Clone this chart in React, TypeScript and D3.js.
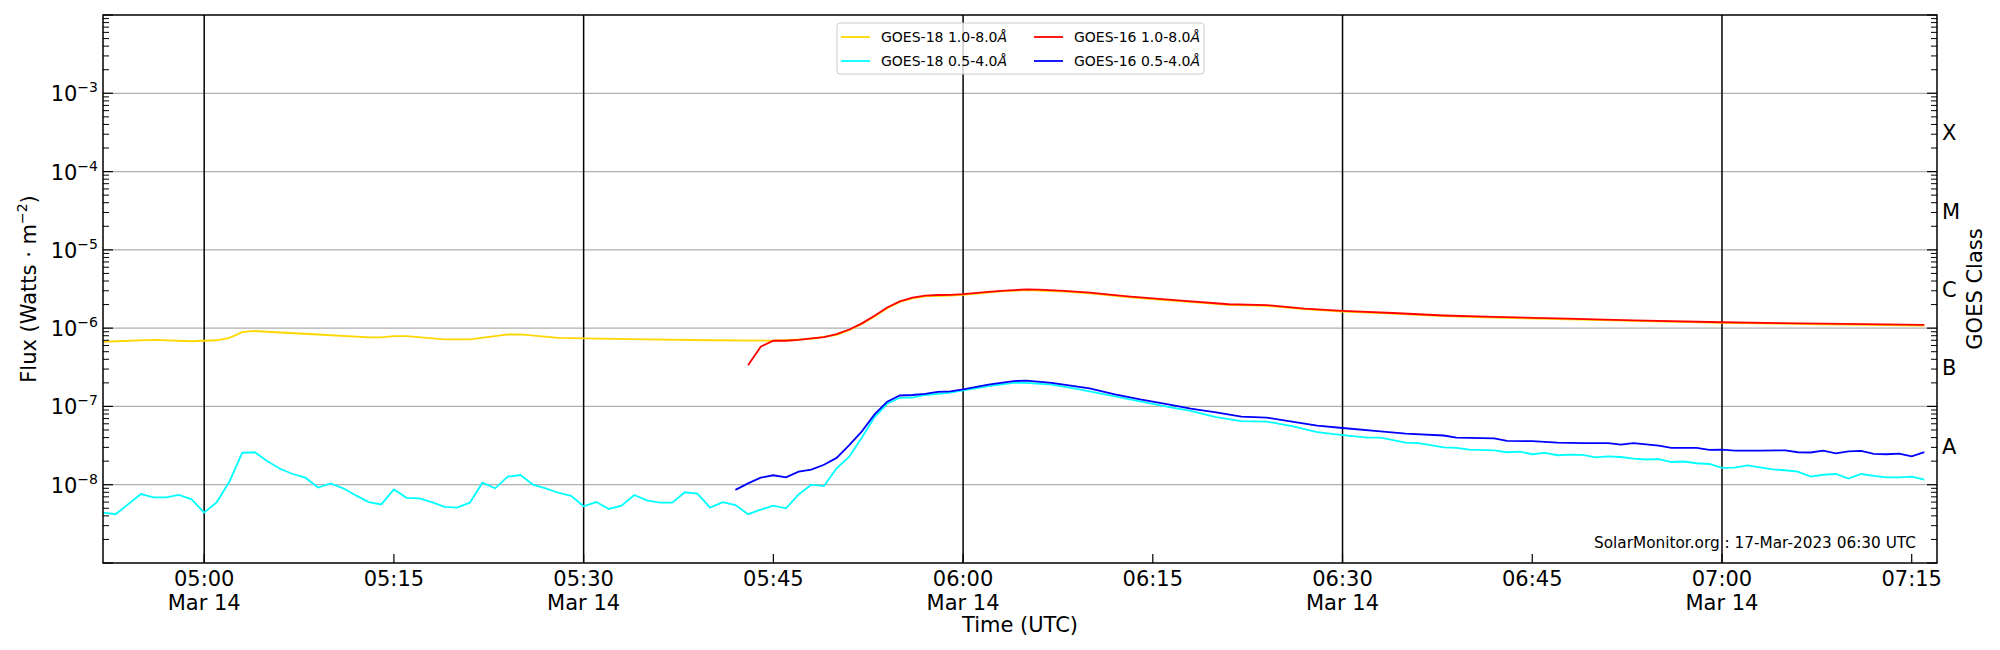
import * as d3 from "d3";

// GOES X-ray flux, 14 Mar 2023 (UTC). [time, W/m^2]
const goes18Long: [string, number][] = [
  ["04:52", 6.7e-7], ["04:56", 7.1e-7], ["04:59", 6.8e-7], ["05:00", 6.9e-7], ["05:01", 7.0e-7],
  ["05:02", 7.5e-7], ["05:03", 8.9e-7], ["05:04", 9.2e-7], ["05:06", 8.8e-7], ["05:09", 8.3e-7],
  ["05:13", 7.6e-7], ["05:14", 7.6e-7], ["05:15", 7.9e-7], ["05:16", 7.9e-7], ["05:19", 7.2e-7],
  ["05:21", 7.2e-7], ["05:23", 7.9e-7], ["05:24", 8.3e-7], ["05:25", 8.3e-7], ["05:28", 7.5e-7],
  ["05:30", 7.4e-7], ["05:35", 7.2e-7], ["05:40", 7.0e-7], ["05:45", 6.9e-7], ["05:48", 7.3e-7],
  ["05:50", 8.2e-7], ["05:51", 9.4e-7], ["05:52", 1.13e-6], ["05:53", 1.41e-6], ["05:54", 1.8e-6],
  ["05:55", 2.16e-6], ["05:56", 2.4e-6], ["05:57", 2.55e-6], ["05:59", 2.6e-6], ["06:00", 2.67e-6],
  ["06:03", 2.95e-6], ["06:05", 3.06e-6], ["06:08", 2.94e-6], ["06:10", 2.79e-6], ["06:13", 2.5e-6],
  ["06:17", 2.21e-6], ["06:21", 1.98e-6], ["06:24", 1.93e-6], ["06:27", 1.75e-6], ["06:30", 1.63e-6],
  ["06:34", 1.53e-6], ["06:38", 1.42e-6], ["06:42", 1.36e-6], ["06:47", 1.3e-6], ["06:53", 1.24e-6],
  ["07:00", 1.17e-6], ["07:08", 1.12e-6], ["07:16", 1.08e-6],
];

const goes18Short: [string, number][] = [
  ["04:52", 4.4e-9], ["04:53", 4.2e-9], ["04:55", 7.6e-9], ["04:56", 6.9e-9], ["04:57", 6.9e-9],
  ["04:58", 7.4e-9], ["04:59", 6.5e-9], ["05:00", 4.4e-9], ["05:01", 6.0e-9], ["05:02", 1.1e-8],
  ["05:03", 2.55e-8], ["05:04", 2.6e-8], ["05:05", 2.0e-8], ["05:06", 1.6e-8], ["05:07", 1.37e-8],
  ["05:08", 1.23e-8], ["05:09", 9.2e-9], ["05:10", 1.04e-8], ["05:11", 9.0e-9], ["05:12", 7.3e-9],
  ["05:13", 6.0e-9], ["05:14", 5.6e-9], ["05:15", 8.7e-9], ["05:16", 6.8e-9], ["05:17", 6.7e-9],
  ["05:18", 6.0e-9], ["05:19", 5.2e-9], ["05:20", 5.1e-9], ["05:21", 5.9e-9], ["05:22", 1.06e-8],
  ["05:23", 9.0e-9], ["05:24", 1.27e-8], ["05:25", 1.33e-8], ["05:26", 1.0e-8], ["05:27", 9.0e-9],
  ["05:28", 7.9e-9], ["05:29", 7.2e-9], ["05:30", 5.3e-9], ["05:31", 6.0e-9], ["05:32", 4.9e-9],
  ["05:33", 5.4e-9], ["05:34", 7.4e-9], ["05:35", 6.3e-9], ["05:36", 5.9e-9], ["05:37", 5.9e-9],
  ["05:38", 8.0e-9], ["05:39", 7.7e-9], ["05:40", 5.1e-9], ["05:41", 6.0e-9], ["05:42", 5.5e-9],
  ["05:43", 4.2e-9], ["05:44", 4.8e-9], ["05:45", 5.4e-9], ["05:46", 5.0e-9], ["05:47", 7.5e-9],
  ["05:48", 1.0e-8], ["05:49", 9.6e-9], ["05:50", 1.62e-8], ["05:51", 2.28e-8], ["05:52", 4.0e-8],
  ["05:53", 7.3e-8], ["05:54", 1.08e-7], ["05:55", 1.29e-7], ["05:56", 1.3e-7], ["05:57", 1.4e-7],
  ["05:58", 1.45e-7], ["05:59", 1.5e-7], ["06:00", 1.6e-7], ["06:02", 1.82e-7], ["06:04", 2.0e-7],
  ["06:05", 2.0e-7], ["06:07", 1.9e-7], ["06:09", 1.68e-7], ["06:12", 1.34e-7], ["06:16", 1.0e-7],
  ["06:18", 8.8e-8], ["06:20", 7.3e-8], ["06:22", 6.5e-8], ["06:24", 6.4e-8], ["06:26", 5.6e-8],
  ["06:28", 4.7e-8], ["06:30", 4.3e-8], ["06:32", 4.0e-8], ["06:33", 4.0e-8], ["06:35", 3.45e-8],
  ["06:36", 3.4e-8], ["06:38", 3.0e-8], ["06:39", 2.96e-8], ["06:40", 2.8e-8], ["06:42", 2.75e-8],
  ["06:43", 2.6e-8], ["06:44", 2.65e-8], ["06:45", 2.45e-8], ["06:46", 2.55e-8], ["06:47", 2.38e-8],
  ["06:48", 2.42e-8], ["06:49", 2.4e-8], ["06:50", 2.24e-8], ["06:51", 2.3e-8], ["06:52", 2.26e-8],
  ["06:53", 2.15e-8], ["06:54", 2.1e-8], ["06:55", 2.12e-8], ["06:56", 1.95e-8], ["06:57", 1.98e-8],
  ["06:58", 1.88e-8], ["06:59", 1.84e-8], ["07:00", 1.64e-8], ["07:01", 1.65e-8], ["07:02", 1.77e-8],
  ["07:03", 1.67e-8], ["07:04", 1.57e-8], ["07:05", 1.53e-8], ["07:06", 1.47e-8], ["07:07", 1.27e-8],
  ["07:08", 1.34e-8], ["07:09", 1.37e-8], ["07:10", 1.2e-8], ["07:11", 1.37e-8], ["07:12", 1.3e-8],
  ["07:13", 1.24e-8], ["07:14", 1.24e-8], ["07:15", 1.27e-8], ["07:16", 1.16e-8],
];

const goes16Long: [string, number][] = [
  ["05:43", 3.36e-7], ["05:44", 5.8e-7], ["05:45", 6.9e-7], ["05:46", 6.9e-7], ["05:47", 7.1e-7],
  ["05:48", 7.4e-7], ["05:49", 7.7e-7], ["05:50", 8.4e-7], ["05:51", 9.6e-7], ["05:52", 1.15e-6],
  ["05:53", 1.44e-6], ["05:54", 1.84e-6], ["05:55", 2.2e-6], ["05:56", 2.45e-6], ["05:57", 2.6e-6],
  ["05:58", 2.65e-6], ["05:59", 2.66e-6], ["06:00", 2.72e-6], ["06:02", 2.9e-6], ["06:03", 3.0e-6],
  ["06:05", 3.12e-6], ["06:06", 3.1e-6], ["06:08", 3.0e-6], ["06:10", 2.85e-6], ["06:13", 2.55e-6],
  ["06:17", 2.26e-6], ["06:21", 2.02e-6], ["06:24", 1.97e-6], ["06:27", 1.78e-6], ["06:30", 1.66e-6],
  ["06:34", 1.56e-6], ["06:38", 1.45e-6], ["06:42", 1.39e-6], ["06:47", 1.33e-6], ["06:53", 1.26e-6],
  ["07:00", 1.19e-6], ["07:08", 1.14e-6], ["07:16", 1.1e-6],
];

const goes16Short: [string, number][] = [
  ["05:42", 8.6e-9], ["05:43", 1.04e-8], ["05:44", 1.23e-8], ["05:45", 1.32e-8], ["05:46", 1.24e-8],
  ["05:47", 1.47e-8], ["05:48", 1.56e-8], ["05:49", 1.8e-8], ["05:50", 2.2e-8], ["05:51", 3.2e-8],
  ["05:52", 4.8e-8], ["05:53", 7.9e-8], ["05:54", 1.15e-7], ["05:55", 1.38e-7], ["05:56", 1.4e-7],
  ["05:57", 1.45e-7], ["05:58", 1.53e-7], ["05:59", 1.56e-7], ["06:00", 1.65e-7], ["06:02", 1.9e-7],
  ["06:04", 2.11e-7], ["06:05", 2.13e-7], ["06:07", 2.0e-7], ["06:10", 1.7e-7], ["06:12", 1.43e-7],
  ["06:14", 1.23e-7], ["06:16", 1.08e-7], ["06:18", 9.4e-8], ["06:20", 8.4e-8], ["06:22", 7.4e-8],
  ["06:24", 7.2e-8], ["06:26", 6.4e-8], ["06:28", 5.7e-8], ["06:30", 5.3e-8], ["06:33", 4.8e-8],
  ["06:35", 4.5e-8], ["06:38", 4.25e-8], ["06:39", 4.0e-8], ["06:42", 3.9e-8], ["06:43", 3.63e-8],
  ["06:45", 3.6e-8], ["06:47", 3.45e-8], ["06:49", 3.4e-8], ["06:51", 3.4e-8], ["06:52", 3.26e-8],
  ["06:53", 3.4e-8], ["06:55", 3.16e-8], ["06:56", 2.95e-8], ["06:58", 2.95e-8], ["06:59", 2.78e-8],
  ["07:00", 2.8e-8], ["07:01", 2.73e-8], ["07:03", 2.73e-8], ["07:05", 2.75e-8], ["07:06", 2.6e-8],
  ["07:07", 2.58e-8], ["07:08", 2.73e-8], ["07:09", 2.52e-8], ["07:10", 2.67e-8], ["07:11", 2.7e-8],
  ["07:12", 2.47e-8], ["07:13", 2.45e-8], ["07:14", 2.5e-8], ["07:15", 2.3e-8], ["07:16", 2.6e-8],
];

const series = [
  { label: "GOES-18 1.0-8.0", color: "#ffd700", data: goes18Long },
  { label: "GOES-18 0.5-4.0", color: "#00ffff", data: goes18Short },
  { label: "GOES-16 1.0-8.0", color: "#ff0000", data: goes16Long },
  { label: "GOES-16 0.5-4.0", color: "#0000ff", data: goes16Short },
];

const goesClasses = ["A", "B", "C", "M", "X"];
const classExponents = [-7.5, -6.5, -5.5, -4.5, -3.5];
const decadeExponents = [-9, -8, -7, -6, -5, -4, -3, -2];
const blackLineTimes = ["05:00", "05:30", "06:00", "06:30", "07:00"];

const width = 2000,
  height = 650;
const margin = { top: 15, right: 63, bottom: 87, left: 103 };
const font = "DejaVu Sans";

const parse = d3.utcParse("%Y-%m-%d %H:%M");
const t = (hm: string) => parse(`2023-03-14 ${hm}`) as Date;

const x = d3
  .scaleUtc()
  .domain([t("04:52"), t("07:17")])
  .range([margin.left, width - margin.right]);
const y = d3
  .scaleLog()
  .domain([1e-9, 1e-2])
  .range([height - margin.bottom, margin.top]);

const line = d3
  .line<[string, number]>()
  .x((d) => x(t(d[0])))
  .y((d) => y(d[1]));

const Pow = ({ exp, x0, y0 }) => (
  <text x={x0} y={y0} textAnchor="end" fontSize={21} fontFamily={font}>
    10
    <tspan dy={-9} fontSize={14}>
      {"\u2212" + Math.abs(exp)}
    </tspan>
  </text>
);

export default function App() {
  const L = margin.left,
    R = width - margin.right,
    T = margin.top,
    B = height - margin.bottom;

  const minor: number[] = [];
  decadeExponents.slice(0, -1).forEach((e) => {
    for (let k = 2; k <= 9; k++) minor.push(k * Math.pow(10, e));
  });
  const xTicks = x.ticks(d3.utcMinute.every(15));
  const fmt = d3.utcFormat("%H:%M");

  return (
    <svg width={width} height={height} style={{ position: "absolute", left: 0, top: 0 }}>
      <rect width={width} height={height} fill="white" />

      {/* grid */}
      {decadeExponents.slice(1, -1).map((e) => (
        <line key={e} x1={L} x2={R} y1={y(Math.pow(10, e))} y2={y(Math.pow(10, e))} stroke="#b0b0b0" strokeWidth={1.2} />
      ))}
      {blackLineTimes.map((s) => (
        <line key={s} x1={x(t(s))} x2={x(t(s))} y1={T} y2={B} stroke="black" strokeWidth={1.5} />
      ))}

      {/* data */}
      <g clipPath="url(#plot)">
        <clipPath id="plot">
          <rect x={L} y={T} width={R - L} height={B - T} />
        </clipPath>
        {series.map((s) => (
          <path key={s.label} d={line(s.data) as string} fill="none" stroke={s.color} strokeWidth={1.8} />
        ))}
      </g>

      {/* y ticks, both sides, inward */}
      {decadeExponents.map((e) => (
        <g key={e}>
          <line x1={L} x2={L + 10} y1={y(Math.pow(10, e))} y2={y(Math.pow(10, e))} stroke="black" strokeWidth={1.2} />
          <line x1={R} x2={R - 10} y1={y(Math.pow(10, e))} y2={y(Math.pow(10, e))} stroke="black" strokeWidth={1.2} />
        </g>
      ))}
      {minor.map((v, i) => (
        <g key={i}>
          <line x1={L} x2={L + 6} y1={y(v)} y2={y(v)} stroke="black" strokeWidth={1} />
          <line x1={R} x2={R - 6} y1={y(v)} y2={y(v)} stroke="black" strokeWidth={1} />
        </g>
      ))}
      {decadeExponents.slice(1, -1).map((e) => (
        <Pow key={e} exp={e} x0={L - 5} y0={y(Math.pow(10, e)) + 8} />
      ))}

      {/* x ticks */}
      {xTicks.map((d) => (
        <g key={+d}>
          <line x1={x(d)} x2={x(d)} y1={B} y2={B - 9} stroke="black" strokeWidth={1.2} />
          <text x={x(d)} y={B + 23} textAnchor="middle" fontSize={21} fontFamily={font}>
            {fmt(d)}
          </text>
          {d.getUTCMinutes() % 30 === 0 && (
            <text x={x(d)} y={B + 47} textAnchor="middle" fontSize={21} fontFamily={font}>
              Mar 14
            </text>
          )}
        </g>
      ))}

      <rect x={L} y={T} width={R - L} height={B - T} fill="none" stroke="black" strokeWidth={1.5} />

      {/* axis titles */}
      <text x={(L + R) / 2} y={632} textAnchor="middle" fontSize={21} fontFamily={font}>
        Time (UTC)
      </text>
      <text transform={`translate(36,${(T + B) / 2}) rotate(-90)`} textAnchor="middle" fontSize={21} fontFamily={font}>
        Flux (Watts · m
        <tspan dy={-9} fontSize={14}>
          −2
        </tspan>
        <tspan dy={9}>)</tspan>
      </text>

      {/* GOES class labels */}
      {goesClasses.map((c, i) => (
        <text key={c} x={R + 5} y={y(Math.pow(10, classExponents[i])) + 8} fontSize={21} fontFamily={font}>
          {c}
        </text>
      ))}
      <text transform={`translate(1982,${(T + B) / 2}) rotate(-90)`} textAnchor="middle" fontSize={21} fontFamily={font}>
        GOES Class
      </text>

      <text x={1916} y={548} textAnchor="end" fontSize={15.3} fontFamily={font}>
        SolarMonitor.org : 17-Mar-2023 06:30 UTC
      </text>

      {/* legend */}
      <g>
        <rect x={837} y={23} width={367} height={51} rx={3} fill="white" fillOpacity={0.8} stroke="#cccccc" />
        {series.map((s, i) => {
          const col = Math.floor(i / 2),
            row = i % 2;
          const lx = 841 + col * 193,
            ly = 37 + row * 24;
          return (
            <g key={s.label}>
              <line x1={lx} x2={lx + 29} y1={ly} y2={ly} stroke={s.color} strokeWidth={1.8} />
              <text x={lx + 40} y={ly + 5} fontSize={14} fontFamily={font}>
                {s.label}
                <tspan fontStyle="italic">Å</tspan>
              </text>
            </g>
          );
        })}
      </g>
    </svg>
  );
}
